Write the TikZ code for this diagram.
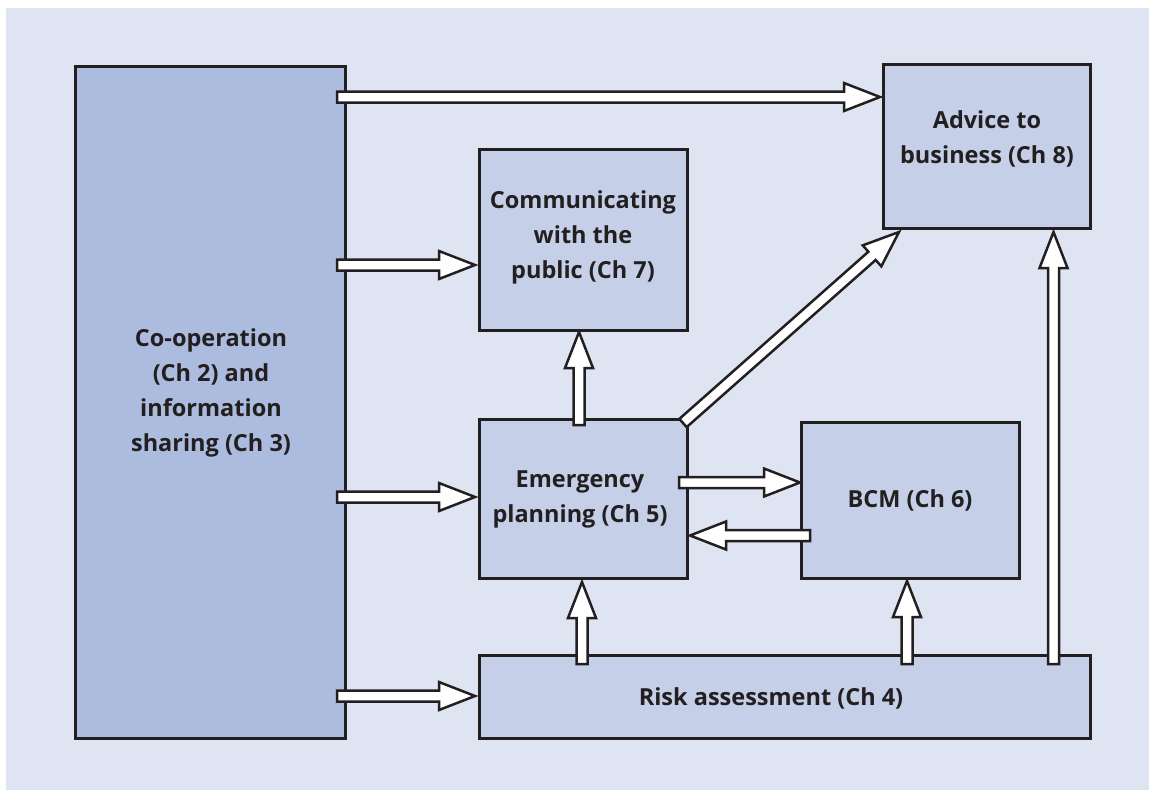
\documentclass[tikz,border=0pt]{standalone}
\usepackage{fontspec}
\setmainfont{Open Sans}
\usetikzlibrary{calc}
\definecolor{bgc}{RGB}{223,228,242}
\definecolor{darkbox}{RGB}{171,188,222}
\definecolor{lightbox}{RGB}{197,207,232}
\definecolor{ink}{RGB}{35,31,32}
\tikzset{
  box/.style={draw=ink, line width=3pt, inner sep=0pt, fill=lightbox},
  label/.style={text=ink, font=\fontsize{23.5}{35}\selectfont\bfseries, align=center, inner sep=0pt},
  blockarrow/.style={draw=ink, fill=white, line width=2.5pt, line join=miter, miter limit=10},
}
\newcommand{\barrow}[2]{%
  \coordinate (ba-s) at (#1);
  \coordinate (ba-e) at (#2);
  \coordinate (ba-n) at ($(ba-e)!36pt!(ba-s)$);
  \filldraw[blockarrow] ($(ba-s)!5.5pt!90:(ba-e)$) -- ($(ba-n)!5.5pt!-90:(ba-s)$)
    -- ($(ba-n)!14pt!-90:(ba-s)$) -- (ba-e) -- ($(ba-n)!14pt!90:(ba-s)$)
    -- ($(ba-n)!5.5pt!90:(ba-s)$) -- ($(ba-s)!5.5pt!-90:(ba-e)$) -- cycle;}
\begin{document}
\begin{tikzpicture}[x=1pt,y=-1pt]
\useasboundingbox (0,0) rectangle (1149,790);
\fill[bgc] (6,8) rectangle (1149,790);
% boxes
\node[box, fill=darkbox, minimum width=270pt, minimum height=672pt] (coop) at (210.5,402) {};
\node[box, minimum width=207pt, minimum height=164pt] (advice) at (987,146) {};
\node[box, minimum width=208pt, minimum height=181pt] (comm) at (583.5,239.5) {};
\node[box, minimum width=208.5pt, minimum height=159pt] (emerg) at (583.25,498.5) {};
\node[box, minimum width=218pt, minimum height=156.5pt] (bcm) at (910.5,500.25) {};
\node[box, minimum width=611.5pt, minimum height=82.5pt] (risk) at (784.75,696.75) {};
% labels
\node[label] (tcoop) at (211,393) {Co-operation\\(Ch 2) and\\information\\sharing (Ch 3)};
\node[label] (tadvice) at (987,139) {Advice to\\business (Ch 8)};
\node[label] (tcomm) at (583,237) {Communicating\\with the\\public (Ch 7)};
\node[label] (temerg) at (580,499) {Emergency\\planning (Ch 5)};
\node[label] (tbcm) at (910,500) {BCM (Ch 6)};
\node[label] (trisk) at (771,698) {Risk assessment (Ch 4)};
% arrow end points
\coordinate (c1s) at (337,97);   \coordinate (c1e) at (880,97);
\coordinate (c2s) at (337,265);  \coordinate (c2e) at (475,265);
\coordinate (c3s) at (337,497);  \coordinate (c3e) at (475,497);
\coordinate (c4s) at (337,696);  \coordinate (c4e) at (475,696);
\coordinate (c5s) at (579,425);  \coordinate (c5e) at (579,332);
\coordinate (c6s) at (683,423);  \coordinate (c6e) at (899,232);
\coordinate (c7s) at (679,482.5);\coordinate (c7e) at (800,482.5);
\coordinate (c8s) at (810,535.5);\coordinate (c8e) at (690,535.5);
\coordinate (c9s) at (582,664);  \coordinate (c9e) at (582,582);
\coordinate (c10s) at (907,664); \coordinate (c10e) at (907,581);
\coordinate (c11s) at (1053.5,664); \coordinate (c11e) at (1053.5,232);
% arrows
\barrow{c1s}{c1e}
\barrow{c2s}{c2e}
\barrow{c3s}{c3e}
\barrow{c4s}{c4e}
\barrow{c5s}{c5e}
\barrow{c6s}{c6e}
\barrow{c7s}{c7e}
\barrow{c8s}{c8e}
\barrow{c9s}{c9e}
\barrow{c10s}{c10e}
\barrow{c11s}{c11e}
\end{tikzpicture}
\end{document}
